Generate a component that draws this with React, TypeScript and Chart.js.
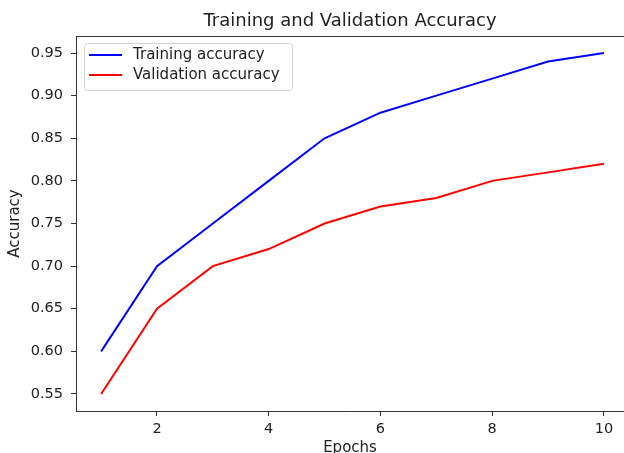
import React, { useEffect, useRef } from "react";
import { Chart, registerables } from "chart.js";

Chart.register(...registerables);

const epochs = [1, 2, 3, 4, 5, 6, 7, 8, 9, 10];
const trainingAccuracy = [0.6, 0.7, 0.75, 0.8, 0.85, 0.88, 0.9, 0.92, 0.94, 0.95];
const validationAccuracy = [0.55, 0.65, 0.7, 0.72, 0.75, 0.77, 0.78, 0.8, 0.81, 0.82];
const xTicks = [2, 4, 6, 8, 10];
const yTicks = [0.55, 0.6, 0.65, 0.7, 0.75, 0.8, 0.85, 0.9, 0.95];
const seriesLabels = ["Training accuracy", "Validation accuracy"];
const seriesColors = ["#0000ff", "#ff0000"];
const titleText = "Training and Validation Accuracy";
const xTitle = "Epochs";
const yTitle = "Accuracy";
// the picture is cropped on the right, so the visible x range ends before the axes do
const xMin = 0.55;
const xMaxVisible = 10.36;
const yMin = 0.53;
const yMax = 0.97;

const FONT = '"DejaVu Sans", "Liberation Sans", sans-serif';
const TEXT = "#222222";
const AXIS = "#333333";

const framePlugin = {
  id: "mplFrame",
  afterDatasetsDraw(chart: any) {
    const { ctx, chartArea } = chart;
    ctx.save();
    ctx.strokeStyle = AXIS;
    ctx.lineWidth = 1;
    ctx.beginPath();
    ctx.moveTo(chartArea.left, chartArea.top + 0.5);
    ctx.lineTo(chartArea.right, chartArea.top + 0.5);
    ctx.stroke();
    ctx.restore();
  },
};

const legendPlugin = {
  id: "mplLegend",
  afterDraw(chart: any) {
    const { ctx, chartArea } = chart;
    const x0 = chartArea.left + 8;
    const y0 = chartArea.top + 7;
    const w = 208;
    const h = 47;
    ctx.save();
    ctx.beginPath();
    if (ctx.roundRect) ctx.roundRect(x0 + 0.5, y0 + 0.5, w, h, 3);
    else ctx.rect(x0 + 0.5, y0 + 0.5, w, h);
    ctx.fillStyle = "rgba(255,255,255,0.8)";
    ctx.fill();
    ctx.strokeStyle = "#d4d4d4";
    ctx.lineWidth = 1;
    ctx.stroke();
    chart.data.datasets.forEach((ds: any, i: number) => {
      const cy = y0 + 12 + i * 20;
      ctx.strokeStyle = ds.borderColor;
      ctx.lineWidth = 2;
      ctx.beginPath();
      ctx.moveTo(x0 + 5, cy);
      ctx.lineTo(x0 + 38, cy);
      ctx.stroke();
      ctx.fillStyle = TEXT;
      ctx.font = `15px ${FONT}`;
      ctx.textBaseline = "middle";
      ctx.textAlign = "left";
      ctx.fillText(ds.label, x0 + 49, cy);
    });
    ctx.restore();
  },
};

export default function App() {
  const ref = useRef<HTMLCanvasElement | null>(null);

  useEffect(() => {
    if (!ref.current) return;
    const series = [trainingAccuracy, validationAccuracy];
    const chart = new Chart(ref.current, {
      type: "line",
      data: {
        datasets: series.map((vals, i) => ({
          label: seriesLabels[i],
          data: epochs.map((e, j) => ({ x: e, y: vals[j] })),
          borderColor: seriesColors[i],
          backgroundColor: seriesColors[i],
          borderWidth: 2,
          pointRadius: 0,
          tension: 0,
          fill: false,
        })),
      },
      options: {
        animation: false,
        responsive: false,
        maintainAspectRatio: false,
        layout: { padding: { left: 0, right: 0, top: 0, bottom: 0 } },
        plugins: {
          legend: { display: false },
          tooltip: { enabled: false },
          title: {
            display: true,
            text: titleText,
            fullSize: false,
            color: TEXT,
            font: { family: FONT, size: 18, weight: "normal", lineHeight: 1.2 },
            padding: { top: 11, bottom: 3.4 },
          },
        },
        scales: {
          x: {
            type: "linear",
            min: xMin,
            max: xMaxVisible,
            afterBuildTicks: (s: any) => {
              s.ticks = xTicks.map((v) => ({ value: v }));
            },
            afterFit: (s: any) => {
              s.height = 42;
              s.paddingRight = 0;
            },
            ticks: {
              color: TEXT,
              font: { family: FONT, size: 14.5 },
              padding: 5,
              maxRotation: 0,
              autoSkip: false,
              callback: (v: any) => String(v),
            },
            grid: { drawOnChartArea: false, drawTicks: true, tickLength: 5, color: AXIS, lineWidth: 1 },
            border: { display: true, color: AXIS, width: 1 },
            title: {
              display: true,
              text: xTitle,
              color: TEXT,
              font: { family: FONT, size: 15, lineHeight: 0.6 },
              padding: { top: 0, bottom: 0 },
            },
          },
          y: {
            type: "linear",
            min: yMin,
            max: yMax,
            afterBuildTicks: (s: any) => {
              s.ticks = yTicks.map((v) => ({ value: v }));
            },
            afterFit: (s: any) => {
              s.width = 76;
            },
            ticks: {
              color: TEXT,
              font: { family: FONT, size: 14.5 },
              padding: 8,
              autoSkip: false,
              callback: (v: any) => Number(v).toFixed(2),
            },
            grid: { drawOnChartArea: false, drawTicks: true, tickLength: 5, color: AXIS, lineWidth: 1 },
            border: { display: true, color: AXIS, width: 1 },
            title: {
              display: true,
              text: yTitle,
              color: TEXT,
              font: { family: FONT, size: 15, lineHeight: 0.6 },
              padding: { top: 10.5, bottom: 0 },
            },
          },
        },
      } as any,
      plugins: [framePlugin, legendPlugin],
    });
    return () => chart.destroy();
  }, []);

  return (
    <div
      style={{
        position: "fixed",
        left: 0,
        top: 0,
        width: 624,
        height: 453,
        overflow: "hidden",
        background: "#ffffff",
      }}
    >
      <canvas ref={ref} width={624} height={453} style={{ display: "block", width: 624, height: 453 }} />
    </div>
  );
}
